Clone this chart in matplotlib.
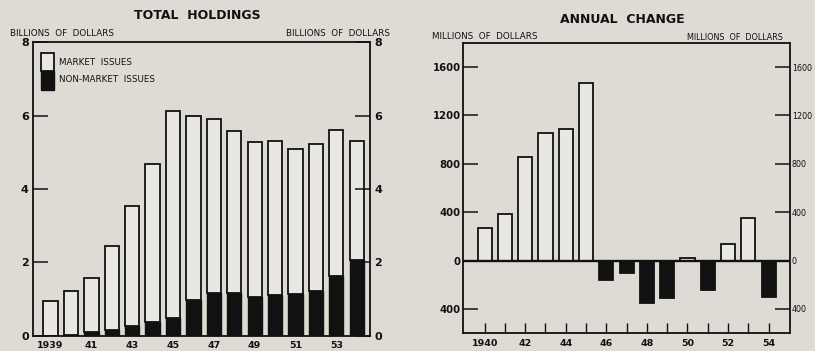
import matplotlib.pyplot as plt
from matplotlib.ticker import FuncFormatter
from matplotlib.patches import Rectangle

BG = '#dddbd3'
BAR_W = '#e9e7e1'
INK = '#111111'

# Total holdings, billions of dollars
hold_years = list(range(1939, 1955))
hold_total = [0.95, 1.22, 1.59, 2.46, 3.54, 4.67, 6.12, 6.0, 5.92, 5.58,
              5.29, 5.31, 5.09, 5.22, 5.6, 5.3]
hold_nonmarket = [0.0, 0.02, 0.11, 0.15, 0.26, 0.38, 0.49, 0.99, 1.17, 1.17,
                  1.05, 1.11, 1.14, 1.23, 1.63, 2.08]
hold_market = [t - n for t, n in zip(hold_total, hold_nonmarket)]
hold_ticklabels = ['1939', '41', '43', '45', '47', '49', '51', '53']

# Annual change, millions of dollars
chg_years = list(range(1940, 1955))
chg_values = [268, 388, 858, 1051, 1090, 1471, -162, -100, -350, -308,
              20, -240, 140, 350, -300]
chg_ticklabels = ['1940', '42', '44', '46', '48', '50', '52', '54']

plt.rcParams['font.family'] = 'DejaVu Sans'
fig = plt.figure(figsize=(8.15, 3.51), dpi=100)
fig.patch.set_facecolor(BG)

UNIT_FS = 6.3

# ---- left panel: total holdings ----
ax1 = fig.add_axes([0.0405, 0.043, 0.4135, 0.837])
ax1.set_facecolor(BG)
x1 = list(range(len(hold_years)))
ax1.bar(x1, hold_nonmarket, width=0.7, color=INK, edgecolor=INK, linewidth=1.0)
ax1.bar(x1, hold_market, bottom=hold_nonmarket, width=0.7, color=BAR_W,
        edgecolor=INK, linewidth=1.3)
ax1.set_xlim(-0.86, 15.65)
ax1.set_ylim(0, 8)
ax1.set_yticks([0, 2, 4, 6, 8])
ax1.tick_params(axis='y', direction='in', length=11, width=1.1, labelsize=8,
                right=True, labelright=True, pad=3, colors=INK)
ax1.set_xticks(x1[::2])
ax1.set_xticklabels(hold_ticklabels)
ax1.tick_params(axis='x', length=0, labelsize=6.8, pad=4, colors=INK)
for lab in ax1.get_xticklabels() + ax1.get_yticklabels():
    lab.set_fontweight('bold')
for s in ax1.spines.values():
    s.set_linewidth(1.3)
    s.set_color(INK)

# legend swatch
ax1.add_patch(Rectangle((-0.45, 6.7), 0.6, 0.5, transform=ax1.transData,
                        facecolor=INK, edgecolor=INK, lw=1.0, clip_on=False))
ax1.add_patch(Rectangle((-0.45, 7.2), 0.6, 0.5, transform=ax1.transData,
                        facecolor=BAR_W, edgecolor=INK, lw=1.3, clip_on=False))
ax1.text(0.4, 7.45, 'MARKET  ISSUES', fontsize=6.3, va='center', color=INK)
ax1.text(0.4, 6.97, 'NON-MARKET  ISSUES', fontsize=6.3, va='center', color=INK)

fig.text(0.242, 0.955, 'TOTAL  HOLDINGS', ha='center', va='center',
         fontsize=9, fontweight='bold', color=INK)
fig.text(0.012, 0.905, 'BILLIONS  OF  DOLLARS', ha='left', va='center',
         fontsize=UNIT_FS, color=INK)
fig.text(0.478, 0.905, 'BILLIONS  OF  DOLLARS', ha='right', va='center',
         fontsize=UNIT_FS, color=INK)

# ---- right panel: annual change ----
ax2 = fig.add_axes([0.568, 0.051, 0.401, 0.827])
ax2.set_facecolor(BG)
x2 = list(range(len(chg_years)))
colors = [BAR_W if v >= 0 else INK for v in chg_values]
ax2.bar(x2, chg_values, width=0.7, color=colors, edgecolor=INK, linewidth=1.3)
ax2.axhline(0, color=INK, lw=1.7)
ax2.set_xlim(-1.07, 15.04)
ax2.set_ylim(-600, 1800)
ax2.set_yticks([-400, 0, 400, 800, 1200, 1600])
ax2.yaxis.set_major_formatter(FuncFormatter(lambda v, p: f'{abs(int(v))}'))
ax2.tick_params(axis='y', direction='in', length=11, width=1.1, labelsize=7.3,
                right=True, labelright=True, pad=2, colors=INK)
ax2.set_xticks(x2)
ax2.set_xticklabels([chg_ticklabels[i // 2] if i % 2 == 0 else '' for i in x2])
ax2.tick_params(axis='x', direction='in', length=7, width=1.0, labelsize=6.8,
                pad=4, colors=INK)
for lab in ax2.get_xticklabels() + ax2.get_yticklabels():
    lab.set_fontweight('bold')
# right-hand labels sit at the very edge of the page
for t in ax2.yaxis.get_major_ticks():
    t.label2.set_fontsize(5.8)
    t.label2.set_fontweight('normal')
ax2.tick_params(axis='y', which='major', pad=1.5)
for s in ax2.spines.values():
    s.set_linewidth(1.3)
    s.set_color(INK)

fig.text(0.764, 0.945, 'ANNUAL  CHANGE', ha='center', va='center',
         fontsize=9, fontweight='bold', color=INK)
fig.text(0.530, 0.897, 'MILLIONS  OF  DOLLARS', ha='left', va='center',
         fontsize=UNIT_FS, color=INK)
fig.text(0.843, 0.892, 'MILLIONS  OF  DOLLARS', ha='left', va='center',
         fontsize=UNIT_FS * 0.92, color=INK)

fig.savefig('out.png', dpi=100, facecolor=BG)
